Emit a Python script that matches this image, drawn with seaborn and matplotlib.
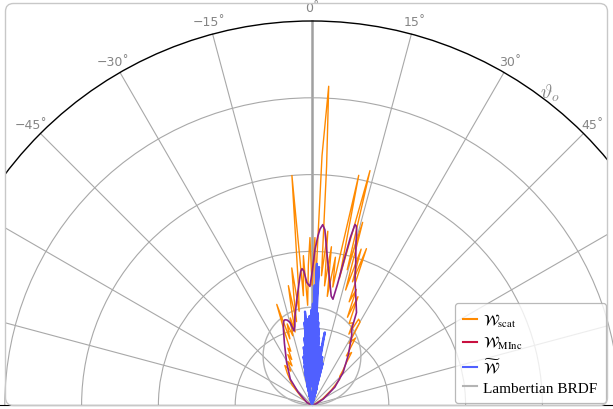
import numpy as np
import pandas as pd
import matplotlib
matplotlib.use("Agg")
import matplotlib.pyplot as plt
import seaborn as sns
from matplotlib.patches import FancyBboxPatch
from matplotlib.lines import Line2D
from matplotlib.transforms import IdentityTransform

# ---------------- data (theta in degrees, r in BRDF units) ----------------
scat_theta = [-70, -55, -45, -38, -34.5, -32, -29, -27, -25.6, -24, -23, -21.5, -20.5, -19.3,
              -18.5, -17, -15.5, -14, -13, -12, -11.2, -10.5, -9.5, -8.4, -7.8, -6.5, -5.0,
              -4.5, -3.3, -2.5, -1.5, -0.7, 0, 1, 1.6, 2.3, 3.0, 3.5, 4.2, 5.2, 6, 7, 8, 9,
              10, 11.5, 12.2, 13.9, 14.6, 15.5, 16.3, 17.5, 18.2, 19.2, 19.8, 21, 22, 23,
              24.5, 26.5, 27.5, 28.5, 30.1, 31, 33, 35, 37, 39, 42, 44, 47, 52, 60, 75]
scat_r = [0.010, 0.039, 0.091, 0.130, 0.156, 0.130, 0.162, 0.143, 0.182, 0.162, 0.201, 0.188,
          0.260, 0.347, 0.227, 0.276, 0.234, 0.292, 0.244, 0.325, 0.396, 0.276, 0.357, 0.451,
          0.308, 0.390, 0.750, 0.357, 0.487, 0.325, 0.455, 0.545, 0.390, 0.545, 0.357, 0.812,
          1.039, 0.779, 0.422, 0.568, 0.390, 0.519, 0.357, 0.487, 0.390, 0.763, 0.422, 0.786,
          0.455, 0.617, 0.390, 0.532, 0.422, 0.539, 0.357, 0.403, 0.308, 0.383, 0.292, 0.299,
          0.260, 0.318, 0.312, 0.234, 0.260, 0.195, 0.214, 0.179, 0.149, 0.130, 0.123, 0.081,
          0.039, 0.010]

minc_theta = [-90, -75, -63, -47, -40, -30.7, -24, -20.7, -19.1, -18.3, -17.6, -16.3, -14.9,
              -13.6, -12.3, -11, -8.2, -5.3, -4.8, -4.2, -3.5, -2.4, -1, 0, 1.1, 2, 2.6, 3.4,
              4.2, 4.9, 6.5, 8.3, 10, 11.2, 11.9, 12.5, 12.9, 13.4, 13.9, 14.3, 15.5, 17, 19,
              21, 25.7, 27.6, 29.8, 36, 43.8, 52, 62, 75, 90]
minc_r = [0.0, 0.006, 0.019, 0.062, 0.110, 0.162, 0.221, 0.263, 0.284, 0.290, 0.291, 0.288,
          0.278, 0.248, 0.262, 0.292, 0.347, 0.422, 0.437, 0.445, 0.437, 0.399, 0.386, 0.430,
          0.506, 0.550, 0.573, 0.588, 0.572, 0.532, 0.460, 0.403, 0.360, 0.351, 0.400, 0.487,
          0.560, 0.604, 0.600, 0.588, 0.535, 0.487, 0.430, 0.396, 0.334, 0.279, 0.260, 0.201,
          0.146, 0.094, 0.042, 0.013, 0.0]

tilde_theta = [-16, -14.5, -14, -13.2, -12.7, -12.1, -11.6, -11.0, -10.6, -10.0, -9.6, -9.1,
               -8.7, -8.2, -7.8, -7.3, -6.9, -6.5, -6.1, -5.6, -5.2, -4.8, -4.3, -3.9, -3.4,
               -3.0, -2.6, -2.1, -1.6, -1.2, -0.7, -0.3, 0.1, 0.5, 0.9, 1.3, 1.6, 2.0, 2.3,
               2.6, 2.9, 3.2, 3.6, 4.0, 4.4, 4.8, 5.2, 5.6, 6.0, 6.4, 6.9, 7.3, 7.8, 8.2, 8.7,
               9.1, 9.6, 10.0, 10.4, 11.0, 11.5, 12.1, 12.6, 13.2, 13.7, 14.3, 14.8, 15.6, 16.5]
tilde_r = [0.00, 0.04, 0.01, 0.07, 0.02, 0.11, 0.03, 0.13, 0.02, 0.16, 0.04, 0.12, 0.03, 0.19,
           0.05, 0.15, 0.04, 0.22, 0.06, 0.18, 0.27, 0.07, 0.305, 0.09, 0.24, 0.28, 0.06, 0.22,
           0.29, 0.08, 0.25, 0.31, 0.09, 0.33, 0.12, 0.39, 0.14, 0.46, 0.10, 0.36, 0.45, 0.08,
           0.30, 0.07, 0.27, 0.06, 0.25, 0.05, 0.22, 0.04, 0.19, 0.05, 0.17, 0.04, 0.19, 0.03,
           0.21, 0.24, 0.03, 0.15, 0.02, 0.16, 0.02, 0.13, 0.02, 0.14, 0.01, 0.06, 0.00]

lambert_value = 1.0 / np.pi          # Lambertian BRDF (albedo 1)
theta_ticks = [-90, -75, -60, -45, -30, -15, 0, 15, 30, 45, 60, 75, 90]
theta_tick_labels = ["", "", "", "\u221245\u02da", "\u221230\u02da", "\u221215\u02da", "0\u02da",
                     "15\u02da", "30\u02da", "45\u02da", "", "", ""]
r_grid = [0.25, 0.5, 0.75, 1.0]
r_max = 1.25

legend_labels = [r"$\mathcal{W}_{\mathrm{scat}}$", r"$\mathcal{W}_{\mathrm{MInc}}$",
                 r"$\widetilde{\mathcal{W}}$", "Lambertian BRDF"]

# ---------------- style ----------------
plt.rcParams["mathtext.fontset"] = "stix"
C_SCAT = "#ff8a00"
C_MINC_LINE = "#8c1f86"
C_MINC_LEG = "#c8103f"
C_TILDE = "#5060ff"
C_LAMB = "#b4b4b4"
C_GRID = "#a8a8a8"

W, H = 613, 410
fig = plt.figure(figsize=(W / 100, H / 100), dpi=100)
fig.patch.set_facecolor("white")

ox, oy = 312, 4          # origin in pixels (from bottom-left)
R = 384                  # pixel radius of r_max
# polar axes box is square; the half-disc wedge is centred inside it
ax = fig.add_axes([(ox - R) / W, (oy + R / 2 - R) / H, 2 * R / W, 2 * R / H], projection="polar")
ax.set_theta_zero_location("N")
ax.set_theta_direction(-1)
ax.set_thetamin(-90)
ax.set_thetamax(90)
ax.set_ylim(0, r_max)
ax.set_facecolor("none")

ax.set_thetagrids(theta_ticks, theta_tick_labels, color="#858585", fontsize=9)
ax.set_yticks(r_grid)
ax.set_yticklabels([])
ax.tick_params(axis="x", pad=2.5, length=0)
ax.grid(True, color=C_GRID, lw=0.8)
ygl = ax.yaxis.get_gridlines()
ygl[-1].set_linestyle((0, (3, 1.5)))
ygl[-1].set_color("#6a6a6a")
for t, gl in zip(theta_ticks, ax.xaxis.get_gridlines()):
    if t == 0:
        gl.set_linewidth(1.8)
        gl.set_color("#a0a0a0")

ax.spines["polar"].set_color("black")
ax.spines["polar"].set_linewidth(1.0)
for s in ("start", "end", "inner"):
    if s in ax.spines:
        ax.spines[s].set_visible(False)

# Lambertian reference
lam_theta = np.linspace(-90, 90, 361)
df_lam = pd.DataFrame({"t": np.deg2rad(lam_theta), "r": lambert_value * np.cos(np.deg2rad(lam_theta))})
sns.lineplot(data=df_lam, x="t", y="r", ax=ax, sort=False, estimator=None, color=C_LAMB, lw=1.0)

df_scat = pd.DataFrame({"t": np.deg2rad(scat_theta), "r": scat_r})
df_minc = pd.DataFrame({"t": np.deg2rad(minc_theta), "r": minc_r})
df_tilde = pd.DataFrame({"t": np.deg2rad(tilde_theta), "r": tilde_r})
sns.lineplot(data=df_scat, x="t", y="r", ax=ax, sort=False, estimator=None, color=C_SCAT, lw=1.0)
sns.lineplot(data=df_minc, x="t", y="r", ax=ax, sort=False, estimator=None, color=C_MINC_LINE, lw=1.2)
sns.lineplot(data=df_tilde, x="t", y="r", ax=ax, sort=False, estimator=None, color=C_TILDE, lw=1.6)
ax.set_xlabel("")
ax.set_ylabel("")

# rounded frame and clipping
frame = FancyBboxPatch((5.5, 3.5), 602, 402, boxstyle="round,pad=0,rounding_size=8",
                       transform=IdentityTransform(), facecolor="none", edgecolor="#c8c8c8",
                       lw=1.0, zorder=10)
fig.add_artist(frame)
clip_artists = list(ax.lines) + list(ax.xaxis.get_gridlines()) + list(ax.yaxis.get_gridlines()) \
    + [ax.spines["polar"]]
for a in clip_artists:
    a.set_clip_on(True)
    a.set_clip_path(frame)

fig.text(550 / W, 1 - 93 / H, r"$\vartheta_o$", color="#8a8a8a", fontsize=14,
         ha="center", va="center", math_fontfamily="cm")

handles = [Line2D([], [], color=C_SCAT, lw=1.5), Line2D([], [], color=C_MINC_LEG, lw=1.5),
           Line2D([], [], color=C_TILDE, lw=1.5), Line2D([], [], color=C_LAMB, lw=1.5)]
leg = fig.legend(handles, legend_labels, loc="lower right", bbox_to_anchor=(606 / W, 6 / H),
                 bbox_transform=fig.transFigure, borderaxespad=0, frameon=True, fancybox=True,
                 prop={"family": "Liberation Serif", "size": 11}, handlelength=0.9,
                 handletextpad=0.4, labelspacing=0.35, borderpad=0.55)
leg.get_frame().set_edgecolor("#a8a8a8")
leg.get_frame().set_linewidth(0.9)

fig.savefig("out.png", dpi=100)
